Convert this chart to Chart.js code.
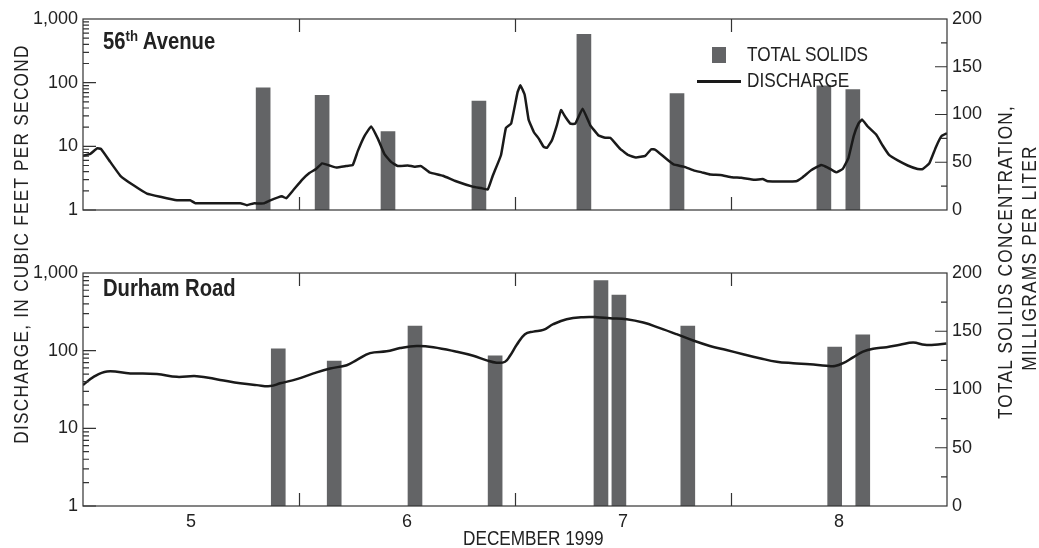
<!DOCTYPE html>
<html>
<head>
<meta charset="utf-8">
<script src="https://cdn.jsdelivr.net/npm/chart.js@4/dist/chart.umd.min.js"></script>
<style>
  body { margin: 0; background: #fff; }
  #wrap { position: relative; width: 1039px; height: 548px; overflow: hidden;
          font-family: "Liberation Sans", Arial, sans-serif; color: #222; }
  #wrap canvas { position: absolute; left: 0; top: 0; }
  .txt { position: absolute; white-space: nowrap; line-height: 1; font-size: 20px;
         transform: scaleX(0.86); transform-origin: 0 0; }
  .panel { font-weight: bold; font-size: 23px; transform: scaleX(0.88); }
  .rot { width: 500px; height: 20px; text-align: center; letter-spacing: 1.5px;
         transform: rotate(-90deg) scaleX(0.86); transform-origin: 50% 50%; }
</style>
</head>
<body>
<div id="wrap">
  <canvas id="top" width="1039" height="548"></canvas>
  <canvas id="bottom" width="1039" height="548"></canvas>

  <div class="txt panel" style="left:103px; top:30px;">56<span style="font-size:15px; position:relative; top:-8px;">th</span> Avenue</div>
  <div class="txt panel" style="left:103px; top:277px;">Durham Road</div>

  <div style="position:absolute; left:712px; top:47px; width:14px; height:16px; background:#636466;"></div>
  <div class="txt" style="left:747px; top:44px;">TOTAL SOLIDS</div>
  <div style="position:absolute; left:697px; top:80px; width:44px; height:2.5px; background:#1a1a1a;"></div>
  <div class="txt" style="left:747px; top:70px;">DISCHARGE</div>

  <div class="txt rot" style="left:-229px; top:234px;">DISCHARGE, IN CUBIC FEET PER SECOND</div>
  <div class="txt rot" style="left:755px; top:252px;">TOTAL SOLIDS CONCENTRATION,</div>
  <div class="txt rot" style="left:779px; top:248px;">MILLIGRAMS PER LITER</div>
  <div class="txt" style="left:463px; top:528px;">DECEMBER 1999</div>
</div>

<script>
// day of December 1999 (5.0 = start of Dec 5)
const dayLabels = ["5", "6", "7", "8"];
const dischargeTicks = [1, 10, 100, 1000];
const solidsTicks = [0, 50, 100, 150, 200];

// 56th Avenue
const aveDays = [5.000,5.034,5.065,5.083,5.126,5.173,5.234,5.296,5.358,5.435,5.496,5.520,5.728,5.759,5.789,5.836,5.867,5.921,5.941,5.974,
  6.015,6.048,6.079,6.107,6.141,6.172,6.218,6.249,6.272,6.303,6.334,6.365,6.395,6.426,6.457,6.504,6.534,6.565,6.604,6.666,
  6.727,6.804,6.843,6.874,6.897,6.935,6.958,6.982,7.012,7.025,7.045,7.063,7.087,7.110,7.133,7.148,7.171,7.194,7.213,7.233,
  7.256,7.279,7.313,7.348,7.387,7.418,7.441,7.487,7.526,7.560,7.603,7.631,7.649,7.695,7.734,7.781,7.827,7.865,7.904,7.950,
  8.004,8.047,8.109,8.147,8.170,8.301,8.332,8.371,8.417,8.448,8.487,8.517,8.544,8.568,8.590,8.607,8.633,8.672,8.702,8.733,
  8.772,8.818,8.864,8.887,8.918,8.949,8.975,9.000];
const aveFlow = [7.1,7.6,9.3,9.1,5.7,3.45,2.44,1.81,1.61,1.42,1.42,1.28,1.28,1.19,1.27,1.27,1.42,1.64,1.53,2.06,
  3.0,3.8,4.4,5.4,5.0,4.65,4.9,5.1,8.4,14.5,20.5,13.2,7.6,5.7,4.9,5.0,4.8,4.9,3.9,3.45,
  2.83,2.33,2.21,2.1,3.45,7.25,19.5,22.7,71,90.8,64,26.3,16.8,13.2,9.8,9.5,12.5,21.6,37,29,
  22.7,22.7,39,21.6,14.8,13.6,13.6,9.1,7.25,6.7,7.1,9.0,8.85,6.6,5.2,4.8,4.2,3.9,3.6,3.55,
  3.28,3.2,2.98,3.07,2.83,2.83,3.28,4.2,5.1,4.65,3.9,4.4,6.6,14.5,22.7,26.3,20.5,15.3,10.3,7.25,
  6.0,5.0,4.4,4.4,5.4,9.8,14.5,16.0];
const aveSampleDays = [5.834, 6.107, 6.412, 6.833, 7.319, 7.750, 8.430, 8.564];
const aveSolids = [128, 120, 82, 114, 184, 122, 130, 126];

// Durham Road
const durDays = [5.000,5.049,5.111,5.219,5.342,5.435,5.527,5.635,5.728,5.805,5.867,5.913,5.990,6.067,6.144,6.221,6.268,6.329,6.406,6.468,
  6.545,6.622,6.730,6.807,6.869,6.915,6.954,6.977,7.008,7.046,7.085,7.131,7.177,7.239,7.316,7.378,7.440,7.517,7.594,7.671,
  7.748,7.825,7.902,7.979,8.056,8.133,8.211,8.288,8.365,8.442,8.481,8.519,8.565,8.611,8.658,8.720,8.782,8.843,8.897,8.943,8.997];
const durFlow = [36,46,54,51,50,46,47,42,38,36,35,38,43,51,59,65,76,93,98,108,
  115,111,97,86,75,70,72,86,119,163,176,185,219,254,270,270,262,254,230,195,
  163,135,115,102,90,80,72,69,67,64,63.5,69,82,97,106,111,119,127,119,119,124];
const durSampleDays = [5.904, 6.163, 6.537, 6.908, 7.398, 7.481, 7.800, 8.480, 8.610];
const durSolids = [135, 124.5, 154.5, 129, 193.5, 181, 154.5, 136.5, 147];

Chart.defaults.font.family = '"Liberation Sans", Arial, sans-serif';
Chart.defaults.font.size = 18;
Chart.defaults.color = "#222";

// frame plus the inward tick marks of the original figure
const innerTicks = {
  id: "innerTicks",
  afterDatasetsDraw(chart) {
    const { ctx, chartArea: a, scales } = chart;
    ctx.save();
    ctx.strokeStyle = "#333";
    ctx.lineWidth = 1.2;
    ctx.strokeRect(a.left, a.top, a.right - a.left, a.bottom - a.top);
    ctx.beginPath();
    for (let d = 6; d <= 8; d++) {
      const px = Math.round(scales.x.getPixelForValue(d)) + 0.5;
      ctx.moveTo(px, a.top); ctx.lineTo(px, a.top + 13);
      ctx.moveTo(px, a.bottom); ctx.lineTo(px, a.bottom - 13);
    }
    for (let e = 1; e <= 100; e *= 10) {
      for (let m = 1; m <= 9; m++) {
        const py = scales.y.getPixelForValue(m * e);
        ctx.moveTo(a.left, py); ctx.lineTo(a.left + (m === 1 ? 13 : 6), py);
      }
    }
    for (let v = 25; v < 200; v += 25) {
      const py = scales.y2.getPixelForValue(v);
      ctx.moveTo(a.right, py); ctx.lineTo(a.right - (v % 50 === 0 ? 12 : 6), py);
    }
    ctx.stroke();
    ctx.restore();
  }
};

function makePanel(id, days, flow, sampleDays, solids, isBottom) {
  new Chart(document.getElementById(id), {
    type: "bar",
    data: {
      datasets: [
        {
          type: "line",
          label: "DISCHARGE",
          data: days.map((d, i) => ({ x: d, y: flow[i] })),
          yAxisID: "y",
          borderColor: "#1a1a1a",
          borderWidth: 2.5,
          pointRadius: 0,
          tension: isBottom ? 0.4 : 0.1,
          order: 0,
        },
        {
          label: "TOTAL SOLIDS",
          data: sampleDays.map((d, i) => ({ x: d, y: solids[i] })),
          yAxisID: "y2",
          backgroundColor: "#636466",
          barThickness: 14,
          order: 1,
        },
      ],
    },
    options: {
      responsive: false,
      devicePixelRatio: 1,
      animation: false,
      layout: { padding: isBottom ? { top: 273, bottom: 0, left: 0, right: 0 } : { top: 19, bottom: 296, left: 0, right: 0 } },
      plugins: { legend: { display: false }, tooltip: { enabled: false } },
      scales: {
        x: {
          type: "linear",
          min: 5,
          max: 9,
          offset: false,
          display: isBottom,
          grid: { display: false, drawTicks: false, offset: false },
          border: { display: false },
          afterBuildTicks: (s) => { s.ticks = dayLabels.map((l, i) => ({ value: 5.5 + i })); },
          afterFit: (s) => { s.height = 42; },
          ticks: {
            autoSkip: false,
            maxRotation: 0,
            padding: 5,
            callback: (v, i) => dayLabels[i],
          },
        },
        y: {
          type: "logarithmic",
          position: "left",
          min: 1,
          max: 1000,
          grid: { display: false, drawTicks: false },
          border: { display: false },
          afterBuildTicks: (s) => { s.ticks = dischargeTicks.map((v) => ({ value: v })); },
          afterFit: (s) => { s.width = 83; },
          ticks: { padding: 5, callback: (v) => v.toLocaleString("en-US") },
        },
        y2: {
          type: "linear",
          position: "right",
          min: 0,
          max: 200,
          grid: { display: false, drawTicks: false },
          border: { display: false },
          afterBuildTicks: (s) => { s.ticks = solidsTicks.map((v) => ({ value: v })); },
          afterFit: (s) => { s.width = 92; },
          ticks: { padding: 5 },
        },
      },
    },
    plugins: [innerTicks],
  });
}

makePanel("top", aveDays, aveFlow, aveSampleDays, aveSolids, false);
makePanel("bottom", durDays, durFlow, durSampleDays, durSolids, true);
</script>
</body>
</html>
